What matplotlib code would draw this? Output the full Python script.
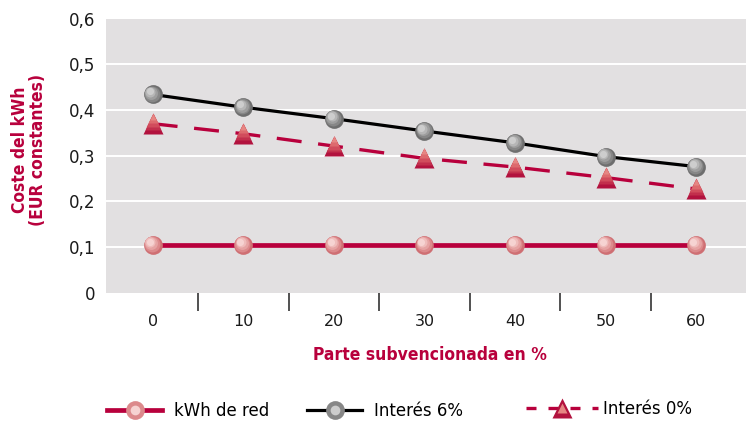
import matplotlib
matplotlib.use("Agg")
import matplotlib.pyplot as plt
from matplotlib import font_manager
from matplotlib.transforms import ScaledTranslation
from matplotlib.legend_handler import HandlerTuple
from matplotlib.lines import Line2D

# ---- data -------------------------------------------------------------
subsidy_pct = [0, 10, 20, 30, 40, 50, 60]
kwh_red = [0.105, 0.105, 0.105, 0.105, 0.105, 0.105, 0.105]
interes_6 = [0.434, 0.406, 0.381, 0.354, 0.328, 0.298, 0.276]
interes_0 = [0.370, 0.348, 0.321, 0.294, 0.275, 0.252, 0.227]
x_tick_labels = ["0", "10", "20", "30", "40", "50", "60"]
y_ticks = [0, 0.1, 0.2, 0.3, 0.4, 0.5, 0.6]
y_tick_labels = ["0", "0,1", "0,2", "0,3", "0,4", "0,5", "0,6"]
series_names = ["kWh de red", "Interés 6%", "Interés 0%"]
x_title = "Parte subvencionada en %"
y_title = "Coste del kWh\n(EUR constantes)"

# ---- style ------------------------------------------------------------
CRIMSON = "#b8003c"
BG = "#e2e0e1"

installed = {f.name for f in font_manager.fontManager.ttflist}
has_condensed = any(f.name == "DejaVu Sans" and f.stretch == "condensed"
                    for f in font_manager.fontManager.ttflist)
if "Liberation Sans Narrow" in installed:
    title_font = dict(family="Liberation Sans Narrow", fontsize=13.5)
elif has_condensed:
    title_font = dict(family="DejaVu Sans", fontstretch="condensed", fontsize=12.5)
else:
    title_font = dict(family="DejaVu Sans", fontsize=11)
plt.rcParams["font.family"] = ["DejaVu Sans"]

W, H = 746, 421
fig = plt.figure(figsize=(W / 100, H / 100), dpi=100)
ax = fig.add_axes([106 / W, (H - 292.7) / H, (W - 106) / W, (292.7 - 18.6) / H])
ax.set_facecolor(BG)
for s in ax.spines.values():
    s.set_visible(False)

ax.set_xlim(-5.15, 65.5)
ax.set_ylim(0, 0.6)

# white horizontal grid
for yv in y_ticks[1:-1]:
    ax.axhline(yv, color="white", lw=1.4, zorder=1)


def offset(dx, dy):
    return ax.transData + ScaledTranslation(dx / 72, dy / 72, fig.dpi_scale_trans)


def sphere(x, y, ms, colors, z):
    """Layered circles that fake a shaded ball."""
    n = len(colors)
    for i, c in enumerate(colors):
        f = i / max(n - 1, 1)
        size = ms * (1 - 0.62 * f)
        shift = ms * 0.16 * f
        ax.plot(x, y, ls="none", marker="o", ms=size, mfc=c, mec="none",
                transform=offset(-shift, shift), zorder=z + i * 0.01)


def cone(x, y, ms, colors, z):
    """Stacked triangles, lighter toward the apex."""
    n = len(colors)
    for i, c in enumerate(colors):
        f = i / max(n - 1, 1)
        size = ms * (1 - 0.7 * f)
        shift = (ms - size) / 2
        ax.plot(x, y, ls="none", marker="^", ms=size, mfc=c, mec="none",
                transform=offset(0, shift), zorder=z + i * 0.01)


pink_shades = ["#cf6f73", "#dc8a8c", "#e6a3a3", "#efbcbb", "#f6d3d2"]
gray_shades = ["#6e6e6e", "#878787", "#9e9e9e", "#b6b6b6", "#cdcdcd"]
tri_shades = ["#b2123e", "#c22f4c", "#d14c5c", "#dd6a6e", "#e68683"]

# kWh de red
ax.plot(subsidy_pct, kwh_red, color=CRIMSON, lw=3.4, zorder=3,
        solid_capstyle="butt")
sphere(subsidy_pct, kwh_red, 13.5, pink_shades, 6)

# Interés 6%
ax.plot(subsidy_pct, interes_6, color="black", lw=2.3, zorder=3,
        solid_capstyle="butt")
sphere(subsidy_pct, interes_6, 13.5, gray_shades, 6)

# Interés 0%
ax.plot(subsidy_pct, interes_0, color=CRIMSON, lw=2.4, zorder=3,
        ls=(0, (7.5, 5)))
cone(subsidy_pct, interes_0, 14.5, tri_shades, 5)

# axes ticks
ax.set_yticks(y_ticks)
ax.set_yticklabels(y_tick_labels)
ax.tick_params(axis="y", length=0, pad=8, labelsize=12, labelcolor="#1a1a1a")
ax.set_xticks(subsidy_pct)
ax.set_xticklabels(x_tick_labels)
ax.tick_params(axis="x", which="major", length=0, pad=15, labelsize=11.5,
               labelcolor="#1a1a1a")
ax.set_xticks([v + 5 for v in subsidy_pct[:-1]], minor=True)
ax.tick_params(axis="x", which="minor", length=13, width=1.2, color="#333333",
               direction="out")

fig.text(29 / W, 1 - 150 / H, y_title, fontweight="bold", color=CRIMSON,
         rotation=90, ha="center", va="center", linespacing=1.0,
         multialignment="center", **title_font)
fig.text(430 / W, 1 - 355 / H, x_title, fontweight="bold", color=CRIMSON,
         ha="center", va="center", **title_font)

# legend: two solid series together, the dashed one on its own further right
h1 = (Line2D([], [], color=CRIMSON, lw=3.4),
      Line2D([], [], ls="none", marker="o", ms=13.5, mfc=pink_shades[1], mec="none"),
      Line2D([], [], ls="none", marker="o", ms=7, mfc=pink_shades[-1], mec="none"))
h2 = (Line2D([], [], color="black", lw=2.3),
      Line2D([], [], ls="none", marker="o", ms=13.5, mfc=gray_shades[1], mec="none"),
      Line2D([], [], ls="none", marker="o", ms=7, mfc=gray_shades[-1], mec="none"))
h3 = (Line2D([], [], color=CRIMSON, lw=2.4, ls=(0, (3.0, 3.6))),
      Line2D([], [], ls="none", marker="^", ms=14.5, mfc=tri_shades[0], mec="none"),
      Line2D([], [], ls="none", marker="^", ms=7, mfc=tri_shades[-1], mec="none"))
tuple_handler = {tuple: HandlerTuple(ndivide=1, pad=0)}
leg_a = fig.legend([h1, h2], series_names[:2], handler_map=tuple_handler,
                   loc="center left", bbox_to_anchor=(107 / W, 1 - 411 / H),
                   ncol=2, frameon=False, fontsize=12, handlelength=3.3,
                   handletextpad=0.7, columnspacing=2.3, borderaxespad=0,
                   borderpad=0)
leg_b = fig.legend([h3], series_names[2:], handler_map=tuple_handler,
                   loc="center left", bbox_to_anchor=(526 / W, 1 - 409 / H),
                   frameon=False, fontsize=12, handlelength=4.3,
                   handletextpad=0.3, borderaxespad=0, borderpad=0)

fig.savefig("out.png", dpi=100)
